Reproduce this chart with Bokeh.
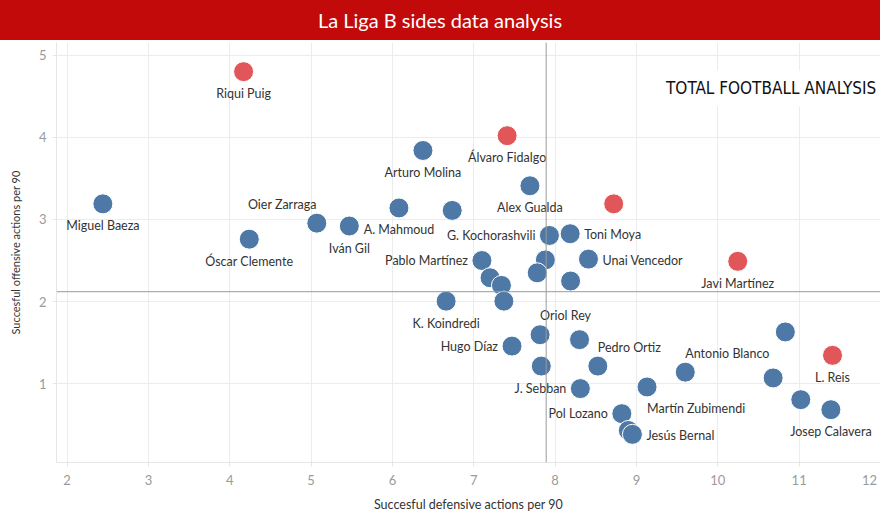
from bokeh.plotting import figure
from bokeh.models import (ColumnDataSource, Span, FixedTicker, Div, Label)
from bokeh.layouts import column
from bokeh.embed import file_html
from bokeh.resources import INLINE
from bokeh.core.properties import value

# ---------------- data ----------------
players = ["Riqui Puig", "Miguel Baeza", "Óscar Clemente", "Oier Zarraga", "Iván Gil",
           "A. Mahmoud", "Arturo Molina", "", "Álvaro Fidalgo", "Alex Gualda",
           "", "G. Kochorashvili", "Toni Moya", "Pablo Martínez", "",
           "Unai Vencedor", "Javi Martínez", "", "", "",
           "", "K. Koindredi", "", "Oriol Rey", "",
           "Hugo Díaz", "", "Pedro Ortiz", "J. Sebban", "Pol Lozano",
           "", "Jesús Bernal", "Martín Zubimendi", "Antonio Blanco", "",
           "L. Reis", "", "", "Josep Calavera"]
defensive = [4.17, 2.44, 4.24, 5.07, 5.47,
             6.08, 6.375, 6.735, 7.41, 7.69,
             8.72, 7.93, 8.185, 7.10, 7.88,
             8.41, 10.245, 7.20, 7.34, 7.78,
             8.19, 6.66, 7.37, 7.815, 8.30,
             7.47, 7.83, 8.525, 8.31, 8.82,
             8.90, 8.95, 9.13, 9.60, 10.83,
             11.41, 10.68, 11.02, 11.39]
offensive = [4.80, 3.19, 2.76, 2.955, 2.92,
             3.14, 3.84, 3.11, 4.02, 3.41,
             3.19, 2.805, 2.826, 2.50, 2.507,
             2.517, 2.49, 2.29, 2.197, 2.35,
             2.25, 2.005, 2.005, 1.596, 1.536,
             1.458, 1.214, 1.214, 0.94, 0.635,
             0.43, 0.383, 0.96, 1.14, 1.63,
             1.345, 1.07, 0.805, 0.683]
highlight = [1, 0, 0, 0, 0,
             0, 0, 0, 1, 0,
             1, 0, 0, 0, 0,
             0, 1, 0, 0, 0,
             0, 0, 0, 0, 0,
             0, 0, 0, 0, 0,
             0, 0, 0, 0, 0,
             1, 0, 0, 0]
avg_defensive = 7.89
avg_offensive = 2.12
x_ticks = [2, 3, 4, 5, 6, 7, 8, 9, 10, 11, 12]
y_ticks = [1, 2, 3, 4, 5]

# ---------------- label placement (layout, not data) ----------------
placement = ["below", "below", "below", "above_l", "below",
             "below", "below", "", "below", "below",
             "", "left", "right", "left", "",
             "right", "below", "", "", "",
             "", "below", "", "above_r", "",
             "left", "", "above_r", "left", "left",
             "", "right", "below_r", "above_r", "",
             "below", "", "", "below"]
place_style = {
    "below":   ("center", 0, 22),
    "above_l": ("right", 0, -19),
    "above_r": ("left", 0, -19),
    "below_r": ("left", 0, 22),
    "left":    ("right", -14, 0),
    "right":   ("left", 14, 1),
}

BLUE = "#4e79a7"
RED = "#e15759"
FONT = "Lato"

W = 880
title_div = Div(
    text=('<div style="width:%dpx;height:40px;line-height:40px;background:#c20a0a;'
          'color:#ffffff;font-family:Lato, sans-serif;font-size:20px;text-align:center;">'
          'La Liga B sides data analysis</div>' % W),
    width=W, height=40, margin=(0, 0, 0, 0))

x_lo, x_hi = 1.87, 12.0
y_lo, y_hi = 0.04, 5.155
p = figure(width=W, height=479, output_backend="svg", toolbar_location=None,
           x_range=(x_lo, x_hi), y_range=(y_lo, y_hi),
           min_border_left=56, min_border_right=0, min_border_top=2, min_border_bottom=57,
           background_fill_color="white", border_fill_color="white", outline_line_color=None,
           margin=(0, 0, 0, 0))

# grid
p.xgrid.grid_line_color = "#ececec"
p.ygrid.grid_line_color = "#ececec"
p.xaxis.ticker = FixedTicker(ticks=x_ticks)
p.yaxis.ticker = FixedTicker(ticks=y_ticks)

for ax in (p.xaxis[0], p.yaxis[0]):
    ax.axis_line_color = "#e6e6e6"
    ax.major_tick_line_color = "#e6e6e6"
    ax.major_tick_out = 4
    ax.major_tick_in = 0
    ax.minor_tick_line_color = None
    ax.major_label_text_color = "#9a9a9a"
    ax.major_label_text_font = FONT
    ax.major_label_text_font_size = "13px"
    ax.axis_label_text_font = FONT
    ax.axis_label_text_font_style = "normal"
    ax.axis_label_text_color = "#333333"

p.xaxis.axis_label = "Succesful defensive actions per 90"
p.xaxis.axis_label_text_font_size = "12.5px"
p.xaxis.axis_label_standoff = 6
p.xaxis.major_label_standoff = 5
p.yaxis.axis_label = "Succesful offensive actions per 90"
p.yaxis.axis_label_text_font_size = "11px"
p.yaxis.axis_label_standoff = 14
p.yaxis.major_label_standoff = 6

# last x tick sits on the canvas edge: pad its label so the digits stay visible
last_tick = x_ticks[-1]
p.xaxis.major_label_overrides = {last_tick: str(last_tick) + "\u00a0"}

# reference lines
p.add_layout(Span(location=avg_defensive, dimension="height", line_color="#9a9a9a", line_width=1))
p.add_layout(Span(location=avg_offensive, dimension="width", line_color="#9a9a9a", line_width=1))

# logo watermark
p.add_layout(Label(x=10.655, y=4.595, text="TOTAL FOOTBALL ANALYSIS", text_align="center",
                   text_baseline="middle", text_font="DejaVu Sans Condensed",
                   text_font_size="17px", text_color="#111111",
                   background_fill_color="white", padding=8))

colors = [RED if h else BLUE for h in highlight]
src = ColumnDataSource(dict(x=defensive, y=offensive, c=colors))
p.scatter("x", "y", source=src, size=20, fill_color="c", line_color="white",
          line_width=1, fill_alpha=1.0)

# labels grouped by alignment
for align in ("left", "center", "right"):
    lx, ly, lt, ox, oy = [], [], [], [], []
    for name, xv, yv, pl in zip(players, defensive, offensive, placement):
        if not name or not pl:
            continue
        a, dx, dy = place_style[pl]
        if a != align:
            continue
        lx.append(xv); ly.append(yv); lt.append(name); ox.append(dx); oy.append(dy)
    if lt:
        s = ColumnDataSource(dict(x=lx, y=ly, t=lt, ox=ox, oy=oy))
        p.text("x", "y", text="t", source=s, x_offset="ox", y_offset="oy",
               text_align=align, text_baseline="middle", text_font=value(FONT),
               text_font_size="12.5px", text_color="#333333")

layout = column(title_div, p, spacing=0)
open("out.html", "w").write(file_html(layout, INLINE))
